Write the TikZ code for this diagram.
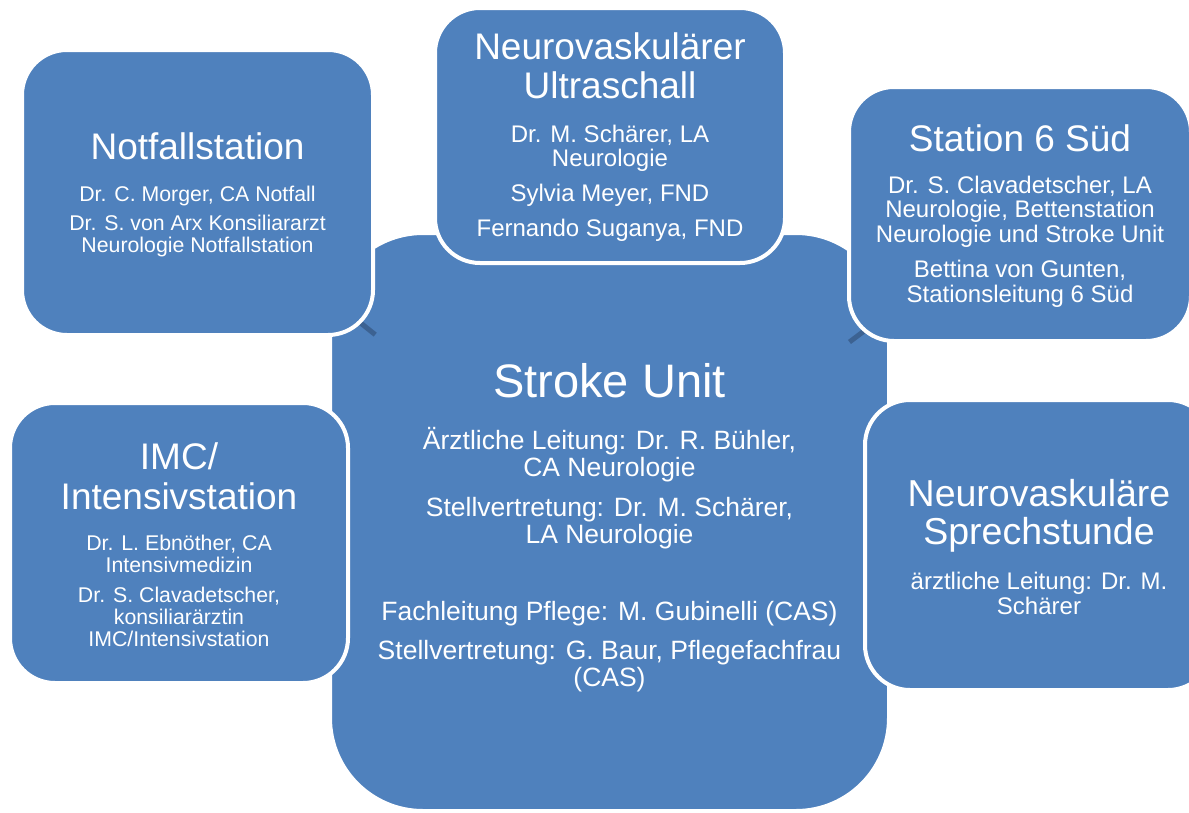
\documentclass[tikz,border=0pt]{standalone}
\usepackage{fontspec}
\setmainfont{Liberation Sans}
\usepackage{tikz}
\definecolor{suBlue}{RGB}{79,129,189}
\definecolor{suLink}{RGB}{60,98,146}
\pgfdeclarelayer{back}
\pgfdeclarelayer{links}
\pgfsetlayers{back,links,main}
\newcommand{\hd}[2]{\fontsize{#1}{#1}\selectfont #2}

\begin{document}
\begin{tikzpicture}[x=1pt,y=-1pt,
  unit/.style={rectangle,rounded corners=45pt,draw=white,line width=4pt,fill=suBlue,
    text=white,align=center,inner sep=0pt},
  txt/.style 2 args={font={\fontsize{#1}{#2}\selectfont\lineskiplimit=-100pt}},
  link/.style={draw=suLink,line width=5pt,shorten <=300pt}]
 \useasboundingbox (0,0) rectangle (1189,812);

 % centre
 \begin{pgfonlayer}{back}
 \node at (609.5,522) [unit,rounded corners=93pt,minimum width=559pt,minimum height=578pt,txt={26.5}{27.4}] (stroke)
  {\hd{47}{\rule{0pt}{46pt}Stroke Unit}\\[24.3pt]
   Ärztliche Leitung: Dr. R. Bühler,\\CA Neurologie\\[12pt]
   Stellvertretung: Dr. M. Schärer,\\LA Neurologie\\[49.6pt]
   Fachleitung Pflege: M. Gubinelli (CAS)\\[11.5pt]
   Stellvertretung: G. Baur, Pflegefachfrau\\(CAS)};
 \end{pgfonlayer}

 % satellites
 \node at (197.5,192.5) [unit,minimum width=351pt,minimum height=285pt,txt={21.3}{22}] (notfall)
  {\hd{37}{\rule{0pt}{31pt}Notfallstation}\\[20pt]
   Dr. C. Morger, CA Notfall\\[7pt]
   Dr. S. von Arx Konsiliararzt\\Neurologie Notfallstation};
 \node at (610,135.5) [unit,minimum width=350pt,minimum height=255pt,txt={24}{24.8}] (ultra)
  {\hd{37}{\rule{0pt}{30pt}Neurovaskulärer}\\[14.2pt]\hd{37}{Ultraschall}\\[18.5pt]
   Dr. M. Schärer, LA\\Neurologie\\[9.8pt]
   Sylvia Meyer, FND\\[9.8pt]
   Fernando Suganya, FND};
 \node at (1020,214) [unit,minimum width=342pt,minimum height=254pt,txt={24}{24.8}] (sued)
  {\hd{37}{\rule{0pt}{31pt}Station 6 Süd}\\[17pt]
   Dr. S. Clavadetscher, LA\\Neurologie, Bettenstation\\Neurologie und Stroke Unit\\[10.5pt]
   Bettina von Gunten,\\Stationsleitung 6 Süd};
 \node at (179,543) [unit,minimum width=338pt,minimum height=280pt,txt={21.3}{22}] (imc)
  {\hd{37}{\rule{0pt}{31pt}IMC/}\\[17.3pt]\hd{37}{Intensivstation}\\[19.7pt]
   Dr. L. Ebnöther, CA\\Intensivmedizin\\[8pt]
   Dr. S. Clavadetscher,\\konsiliarärztin\\IMC/Intensivstation};
 \node at (1039,545) [unit,minimum width=348pt,minimum height=290pt,txt={24}{24.8}] (sprech)
  {\hd{37.5}{\rule{0pt}{31pt}Neurovaskuläre}\\[13pt]\hd{37.5}{Sprechstunde}\\[20pt]
   ärztliche Leitung: Dr. M.\\Schärer};

 % connectors
 \begin{pgfonlayer}{links}
 \draw[link] (stroke.center)--(notfall.center);
 \draw[link] (stroke.center)--(ultra.center);
 \draw[link] (stroke.center)--(sued.center);
 \draw[link] (stroke.center)--(imc.center);
 \draw[link] (stroke.center)--(sprech.center);
 \end{pgfonlayer}
\end{tikzpicture}
\end{document}
